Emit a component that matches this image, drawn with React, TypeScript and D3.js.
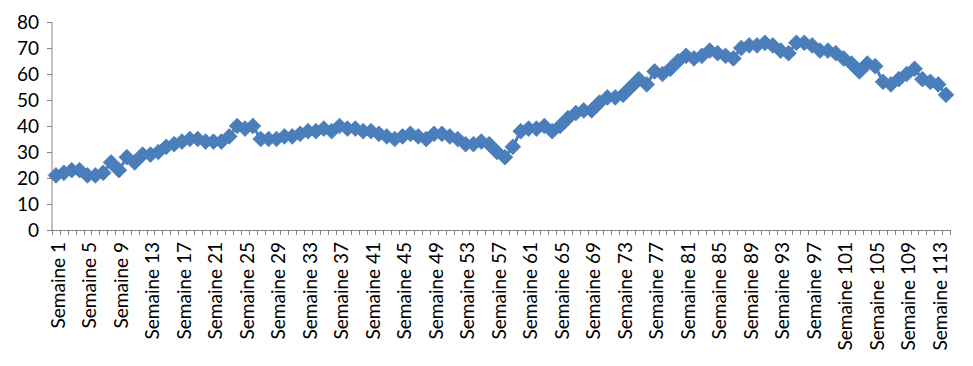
import { useMemo } from "react";
import * as d3 from "d3";

const WIDTH = 973;
const HEIGHT = 366;
const MARGIN = { top: 22, right: 23, bottom: 136, left: 52 };

// weekly values
const values = [
  21, 22, 23, 23, 21, 21, 22, 26, 23, 28,
  26, 29, 29, 30, 32, 33, 34, 35, 35, 34,
  34, 34, 36, 40, 39, 40, 35, 35, 35, 36,
  36, 37, 38, 38, 39, 38, 40, 39, 39, 38,
  38, 37, 36, 35, 36, 37, 36, 35, 37, 37,
  36, 35, 33, 33, 34, 33, 30, 28, 32, 38,
  39, 39, 40, 38, 40, 43, 45, 46, 46, 49,
  51, 51, 52, 55, 58, 56, 61, 60, 62, 65,
  67, 66, 67, 69, 68, 67, 66, 70, 71, 71,
  72, 71, 69, 68, 72, 72, 71, 69, 69, 68,
  66, 64, 61, 64, 63, 57, 56, 58, 60, 62,
  58, 57, 56, 52,
];
const categories = values.map((_, i) => `Semaine ${i + 1}`);
const yTicks = [0, 10, 20, 30, 40, 50, 60, 70, 80];

const BLUE = "#4A7EBB";
const AXIS = "#868686";
const FONT = "Lato, 'Open Sans', sans-serif";

export default function App() {
  const boundsWidth = WIDTH - MARGIN.left - MARGIN.right;
  const boundsHeight = HEIGHT - MARGIN.top - MARGIN.bottom;

  const xScale = useMemo(
    () => d3.scaleBand().domain(categories).range([0, boundsWidth]).padding(0),
    [boundsWidth]
  );
  const yScale = useMemo(
    () => d3.scaleLinear().domain([0, 80]).range([boundsHeight, 0]),
    [boundsHeight]
  );

  const bw = xScale.bandwidth();
  const cx = (i: number) => (xScale(categories[i]) ?? 0) + bw / 2;

  const linePath =
    d3
      .line<number>()
      .x((_, i) => cx(i))
      .y((d) => yScale(d))(values) || "";

  const marker = d3.symbol(d3.symbolSquare, 124)() || "";

  // category boundary ticks
  const xTickPos = d3.range(categories.length + 1).map((i) => i * bw);

  return (
    <svg width={WIDTH} height={HEIGHT} style={{ position: "absolute", left: 0, top: 0 }}>
      <rect width={WIDTH} height={HEIGHT} fill="white" />
      <g transform={`translate(${MARGIN.left},${MARGIN.top})`}>
        {/* y axis */}
        <line x1={0} x2={0} y1={0} y2={boundsHeight} stroke={AXIS} strokeWidth={1} />
        {yTicks.map((t) => (
          <g key={t} transform={`translate(0,${Math.round(yScale(t)) + 0.5})`}>
            <line x1={-5} x2={0} stroke={AXIS} />
            <text
              x={-13}
              dy="0.35em"
              textAnchor="end"
              fontFamily={FONT}
              fontSize={19}
              fill="#000"
            >
              {t}
            </text>
          </g>
        ))}

        {/* x axis */}
        <line
          x1={0}
          x2={boundsWidth}
          y1={boundsHeight + 0.5}
          y2={boundsHeight + 0.5}
          stroke={AXIS}
        />
        {xTickPos.map((p, i) => (
          <line
            key={i}
            x1={Math.round(p) + 0.5}
            x2={Math.round(p) + 0.5}
            y1={boundsHeight}
            y2={boundsHeight + 5}
            stroke={AXIS}
          />
        ))}
        {categories.map((c, i) =>
          i % 4 === 0 ? (
            <text
              key={c}
              transform={`translate(${cx(i) + 2},${boundsHeight + 12}) rotate(-90)`}
              textAnchor="end"
              dy="0.35em"
              fontFamily={FONT}
              fontSize={19}
              fill="#000"
            >
              {c}
            </text>
          ) : null
        )}

        {/* series */}
        <path d={linePath} fill="none" stroke={BLUE} strokeWidth={3} strokeLinejoin="round" />
        {values.map((v, i) => (
          <path
            key={i}
            d={marker}
            transform={`translate(${cx(i)},${yScale(v)}) rotate(45)`}
            fill={BLUE}
            stroke={BLUE}
            strokeWidth={0.75}
          />
        ))}
      </g>
    </svg>
  );
}
